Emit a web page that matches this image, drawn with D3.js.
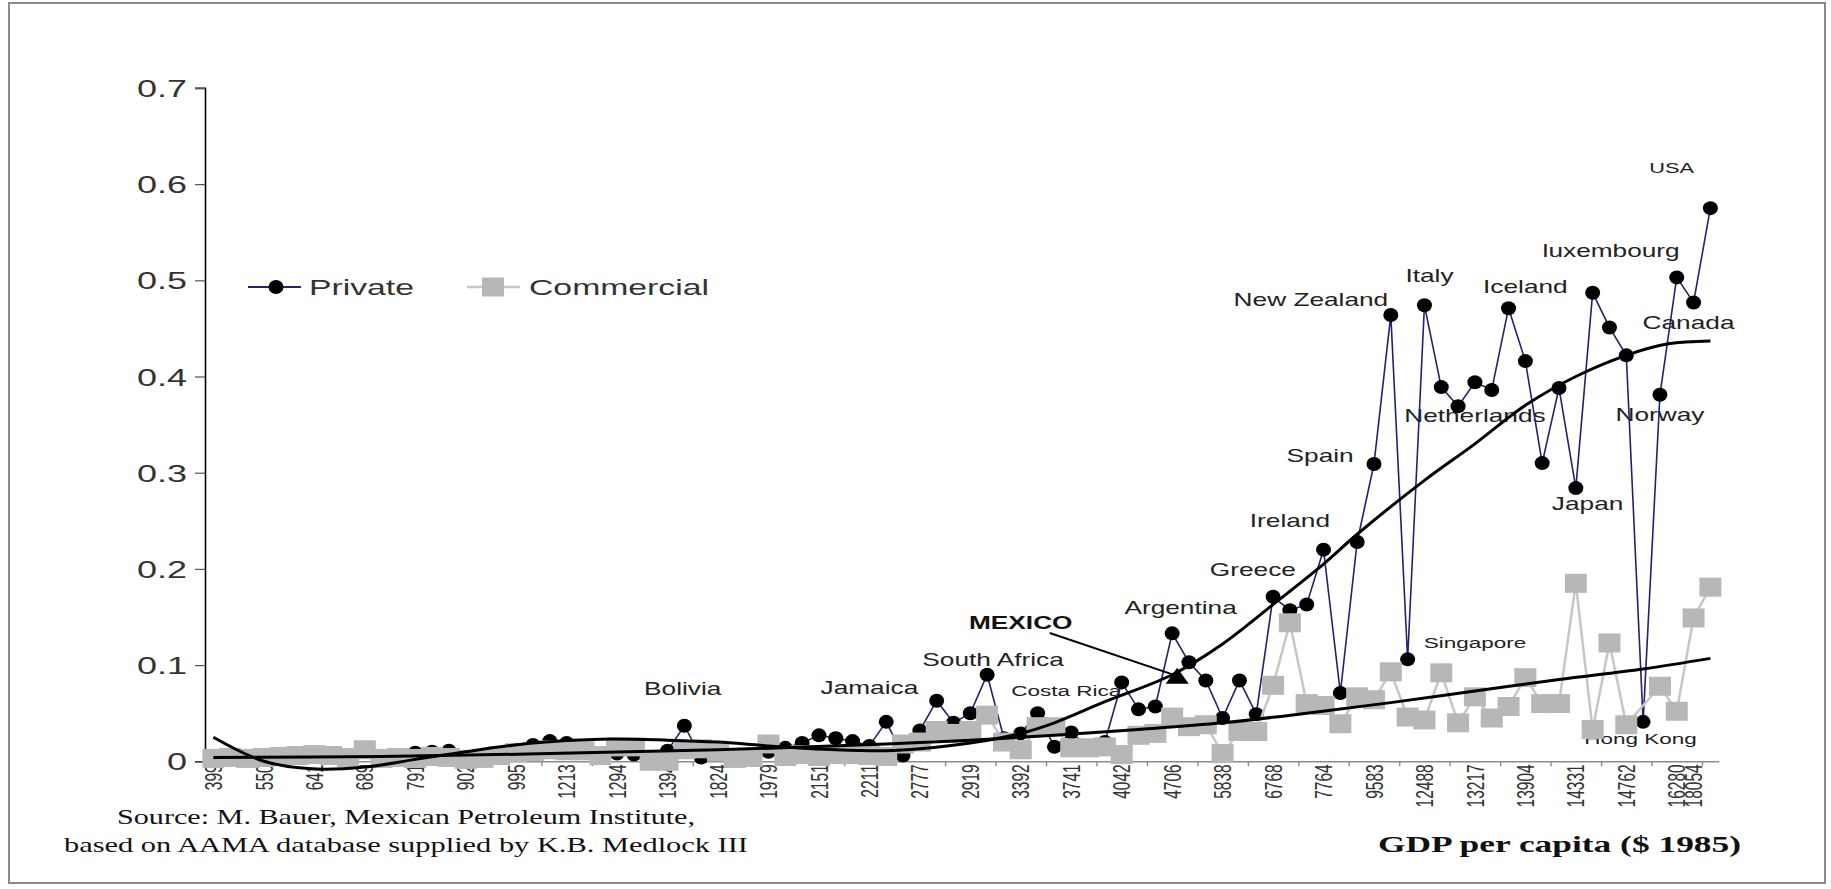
<!DOCTYPE html>
<html>
<head>
<meta charset="utf-8">
<script src="https://cdn.jsdelivr.net/npm/d3@7"></script>
<style>
body { margin: 0; background: #fff; }
svg { display: block; }
</style>
</head>
<body>
<script>
//width and height of svg
var w = 1831;
var h = 889;

//GDP per capita labels under the x axis, and the country index they sit on
var gdpTicks = ["399", "550", "641", "689", "791", "902", "995", "1213", "1294", "1394",
                "1824", "1979", "2151", "2211", "2777", "2919", "3392", "3741", "4042", "4706",
                "5838", "6768", "7764", "9583", "12488", "13217", "13904", "14331", "14762", "16280",
                "18054"];
var gdpTickIndex = [0, 3, 6, 9, 12, 15, 18, 21, 24, 27,
                    30, 33, 36, 39, 42, 45, 48, 51, 54, 57,
                    60, 63, 66, 69, 72, 75, 78, 81, 84, 87,
                    88];

//private vehicles per capita, one value per country, countries sorted by GDP
var privateCars = [0.003, 0.003, 0.002, 0.004, 0.003, 0.004, 0.005, 0.004, 0.005, 0.014,
                   0.004, 0.006, 0.009, 0.010, 0.011, 0.002, 0.002, 0.005, 0.012, 0.017,
                   0.021, 0.019, 0.009, 0.005, 0.008, 0.007, 0.004, 0.011, 0.037, 0.004,
                   0.008, 0.006, 0.005, 0.010, 0.014, 0.019, 0.027, 0.024, 0.021, 0.016,
                   0.041, 0.006, 0.032, 0.063, 0.040, 0.050, 0.090, 0.024, 0.029, 0.050,
                   0.015, 0.030, 0.015, 0.020, 0.082, 0.054, 0.057, 0.133, 0.103, 0.084,
                   0.045, 0.084, 0.049, 0.171, 0.157, 0.163, 0.220, 0.071, 0.228, 0.309,
                   0.464, 0.106, 0.474, 0.389, 0.369, 0.394, 0.386, 0.471, 0.416, 0.310,
                   0.388, 0.284, 0.487, 0.451, 0.422, 0.041, 0.381, 0.503, 0.477, 0.575];

//commercial vehicles per capita (no square shows for Hong Kong)
var commercialCars = [0.003, 0.004, 0.003, 0.004, 0.005, 0.006, 0.007, 0.006, 0.004, 0.012,
                      0.003, 0.004, 0.003, 0.005, 0.004, 0.002, 0.003, 0.006, 0.009, 0.010,
                      0.012, 0.011, 0.011, 0.006, 0.015, 0.015, 0.000, 0.000, 0.012, 0.013,
                      0.010, 0.003, 0.004, 0.018, 0.005, 0.007, 0.005, 0.007, 0.007, 0.006,
                      0.005, 0.018, 0.020, 0.032, 0.029, 0.032, 0.048, 0.020, 0.012, 0.036,
                      0.036, 0.014, 0.014, 0.015, 0.007, 0.027, 0.029, 0.046, 0.036, 0.038,
                      0.008, 0.031, 0.031, 0.079, 0.144, 0.060, 0.058, 0.039, 0.067, 0.064,
                      0.093, 0.046, 0.043, 0.092, 0.040, 0.067, 0.045, 0.057, 0.087, 0.060,
                      0.060, 0.185, 0.033, 0.123, 0.038, null, 0.078, 0.052, 0.149, 0.181];

//trend curves: [country index, value]
var privateTrend = [[0, 0.025], [3, 0.0], [6, -0.008], [9, -0.006], [12, 0.002], [15, 0.010],
                    [19, 0.019], [23, 0.023], [27, 0.022], [30, 0.020], [33, 0.016], [37, 0.012],
                    [40, 0.011], [42, 0.013], [45, 0.019], [48, 0.029], [50, 0.040], [53, 0.062],
                    [57, 0.090], [60, 0.122], [63, 0.163], [66, 0.205], [68, 0.236], [72, 0.292],
                    [75, 0.330], [78, 0.370], [81, 0.400], [84, 0.422], [86.5, 0.434], [89, 0.437]];
var commercialTrend = [[0, 0.004], [10, 0.005], [20, 0.008], [30, 0.012], [40, 0.018], [45, 0.022],
                       [50, 0.027], [55, 0.033], [60, 0.040], [65, 0.050], [70, 0.061], [75, 0.073],
                       [80, 0.085], [85, 0.096], [89, 0.107]];

//Mexico marker and where its caption sits
var mexicoPoint = [57.3, 0.088];
var mexicoCaption = [48.0, 0.1375];

//country captions: [name, country index, value]
var countryNames = [
    ["Bolivia", 27.9, 0.069], ["Jamaica", 39.0, 0.070], ["South Africa", 46.35, 0.099],
    ["Costa Rica", 50.7, 0.068], ["Argentina", 57.5, 0.153], ["Greece", 61.8, 0.193],
    ["Ireland", 64.0, 0.2435], ["Spain", 65.8, 0.311], ["New Zealand", 65.25, 0.473],
    ["Italy", 72.3, 0.498], ["Iceland", 78.0, 0.487], ["luxembourg", 83.1, 0.524],
    ["USA", 86.7, 0.612], ["Canada", 87.7, 0.449], ["Netherlands", 75.0, 0.353],
    ["Norway", 86.0, 0.354], ["Japan", 81.7, 0.2615], ["Singapore", 75.0, 0.118],
    ["Hong Kong", 84.85, 0.018]
];
var smallNames = ["Costa Rica", "Singapore", "Hong Kong"];

//the picture is stretched sideways, text follows that
var sx = 1.5;
var sans = "'Liberation Sans', Arial, sans-serif";
var serif = "'Liberation Serif', 'Times New Roman', serif";

var svg = d3.select("body")
            .append("svg")
            .attr("width", w)
            .attr("height", h);

//outer frame
svg.append("rect")
    .attr("x", 9).attr("y", 3)
    .attr("width", 1816).attr("height", 880)
    .attr("fill", "none")
    .attr("stroke", "#8a8a8a")
    .attr("stroke-width", 2);

//scales
var n = privateCars.length;
var xScale = d3.scaleLinear()
                .domain([-0.5, n - 0.5])
                .range([205, 1718.8]);
var yScale = d3.scaleLinear()
                .domain([0, 0.7])
                .range([761.3, 87.9]);

function stretch(x, y) {
    return "translate(" + x + "," + y + ") scale(" + sx + ",1)";
}

//y axis
var yAxis = svg.append("g")
                .attr("transform", "translate(205,0)")
                .call(d3.axisLeft(yScale)
                        .tickValues(d3.range(0, 0.71, 0.1))
                        .tickSize(10)
                        .tickFormat(function(d) { return d < 0.001 ? "0" : d3.format(".1f")(d); }));
yAxis.select(".domain").attr("stroke", "#000").attr("stroke-width", 1.6);
yAxis.selectAll(".tick line").attr("stroke", "#555").attr("stroke-width", 1.2);
yAxis.selectAll(".tick text")
    .attr("x", 0).attr("dy", 0)
    .attr("transform", "translate(-18,8.5) scale(" + sx + ",1)")
    .attr("fill", "#333")
    .style("font-family", sans)
    .style("font-size", "24px");

//x axis tick marks, every third country boundary
var xMarks = svg.append("g")
                .attr("transform", "translate(0,761.3)")
                .call(d3.axisBottom(xScale)
                        .tickValues(d3.range(1.5, n, 3))
                        .tickSize(5)
                        .tickSizeOuter(0)
                        .tickFormat(""));
xMarks.select(".domain").attr("stroke", "#8c8c8c").attr("stroke-width", 1.6);
xMarks.selectAll(".tick line").attr("stroke", "#8c8c8c").attr("stroke-width", 1.4);

//x axis labels, rotated
var xLabels = svg.append("g")
                .attr("transform", "translate(0,761.3)")
                .call(d3.axisBottom(xScale)
                        .tickValues(gdpTickIndex)
                        .tickSize(0)
                        .tickFormat(function(d, i) { return gdpTicks[i]; }));
xLabels.select(".domain").remove();
xLabels.selectAll(".tick text")
    .attr("x", 0).attr("y", 0).attr("dy", "0.35em")
    .attr("text-anchor", "end")
    .attr("transform", "translate(0,3) scale(" + sx + ",1) rotate(-90)")
    .attr("fill", "#333")
    .style("font-family", sans)
    .style("font-size", "15.5px");

//country captions
svg.append("g")
    .selectAll("text")
    .data(countryNames)
    .enter()
    .append("text")
    .attr("transform", function(d) { return stretch(xScale(d[1]), yScale(d[2])); })
    .attr("text-anchor", "middle")
    .attr("fill", "#222")
    .style("font-family", sans)
    .style("font-size", function(d) {
        if (d[0] == "USA") return "14.5px";
        return smallNames.indexOf(d[0]) >= 0 ? "15px" : "17.5px";
    })
    .text(function(d) { return d[0]; });

//private series (drawn first, commercial sits on top of it)
var privateLine = d3.line()
                    .x(function(d, i) { return xScale(i); })
                    .y(function(d) { return yScale(d); });
svg.append("path")
    .datum(privateCars)
    .attr("d", privateLine)
    .attr("fill", "none")
    .attr("stroke", "#222270")
    .attr("stroke-width", 1.6);
svg.append("g")
    .selectAll("ellipse")
    .data(privateCars)
    .enter()
    .append("ellipse")
    .attr("cx", function(d, i) { return xScale(i); })
    .attr("cy", function(d) { return yScale(d); })
    .attr("rx", 7.5)
    .attr("ry", 7)
    .attr("fill", "#000");

//commercial series, gaps are bridged
var commercialPoints = commercialCars
                        .map(function(d, i) { return [i, d]; })
                        .filter(function(d) { return d[1] != null; });
var commercialLine = d3.line()
                        .x(function(d) { return xScale(d[0]); })
                        .y(function(d) { return yScale(d[1]); });
svg.append("path")
    .datum(commercialPoints)
    .attr("d", commercialLine)
    .attr("fill", "none")
    .attr("stroke", "#c6c6c6")
    .attr("stroke-width", 2.5);
svg.append("g")
    .selectAll("rect")
    .data(commercialPoints)
    .enter()
    .append("rect")
    .attr("x", function(d) { return xScale(d[0]) - 11; })
    .attr("y", function(d) { return yScale(d[1]) - 9.5; })
    .attr("width", 22)
    .attr("height", 19)
    .attr("fill", "#b7b7b7");

//trend curves
var trendLine = d3.line()
                    .curve(d3.curveCatmullRom)
                    .x(function(d) { return xScale(d[0]); })
                    .y(function(d) { return yScale(d[1]); });
[privateTrend, commercialTrend].forEach(function(t) {
    svg.append("path")
        .datum(t)
        .attr("d", trendLine)
        .attr("fill", "none")
        .attr("stroke", "#000")
        .attr("stroke-width", 3);
});

//Mexico: caption, pointer and triangle
svg.append("text")
    .attr("transform", stretch(xScale(mexicoCaption[0]), yScale(mexicoCaption[1])))
    .attr("text-anchor", "middle")
    .attr("fill", "#111")
    .style("font-family", sans)
    .style("font-size", "17.5px")
    .style("font-weight", "bold")
    .text("MEXICO");
var mx = xScale(mexicoPoint[0]);
var my = yScale(mexicoPoint[1]);
svg.append("line")
    .attr("x1", xScale(mexicoCaption[0]) + 29).attr("y1", yScale(mexicoCaption[1]) + 4)
    .attr("x2", mx - 4).attr("y2", my - 2)
    .attr("stroke", "#000")
    .attr("stroke-width", 2);
svg.append("path")
    .attr("d", "M" + mx + "," + (my - 9) + "L" + (mx + 11.5) + "," + (my + 7) + "L" + (mx - 11.5) + "," + (my + 7) + "Z")
    .attr("fill", "#000");

//legend
var legend = svg.append("g");
legend.append("line")
    .attr("x1", 248).attr("x2", 301).attr("y1", 287).attr("y2", 287)
    .attr("stroke", "#222270").attr("stroke-width", 2);
legend.append("ellipse")
    .attr("cx", 276).attr("cy", 287).attr("rx", 7.5).attr("ry", 7)
    .attr("fill", "#000");
legend.append("text")
    .attr("transform", stretch(309, 295))
    .attr("fill", "#333")
    .style("font-family", sans)
    .style("font-size", "22.5px")
    .text("Private");
legend.append("line")
    .attr("x1", 467).attr("x2", 520).attr("y1", 287).attr("y2", 287)
    .attr("stroke", "#c6c6c6").attr("stroke-width", 2.5);
legend.append("rect")
    .attr("x", 493 - 11).attr("y", 287 - 9.5).attr("width", 22).attr("height", 19)
    .attr("fill", "#b7b7b7");
legend.append("text")
    .attr("transform", stretch(529, 295))
    .attr("fill", "#333")
    .style("font-family", sans)
    .style("font-size", "22.5px")
    .text("Commercial");

//source note and axis title
svg.append("text")
    .attr("x", 117).attr("y", 824)
    .attr("textLength", 578).attr("lengthAdjust", "spacingAndGlyphs")
    .attr("fill", "#111")
    .style("font-family", serif)
    .style("font-size", "22px")
    .text("Source: M. Bauer, Mexican Petroleum Institute,");
svg.append("text")
    .attr("x", 64).attr("y", 852)
    .attr("textLength", 684).attr("lengthAdjust", "spacingAndGlyphs")
    .attr("fill", "#111")
    .style("font-family", serif)
    .style("font-size", "22px")
    .text("based on AAMA database supplied by K.B. Medlock III");
svg.append("text")
    .attr("x", 1378).attr("y", 852)
    .attr("textLength", 363).attr("lengthAdjust", "spacingAndGlyphs")
    .attr("fill", "#111")
    .style("font-family", serif)
    .style("font-size", "24px")
    .style("font-weight", "bold")
    .text("GDP per capita ($ 1985)");
</script>
</body>
</html>
